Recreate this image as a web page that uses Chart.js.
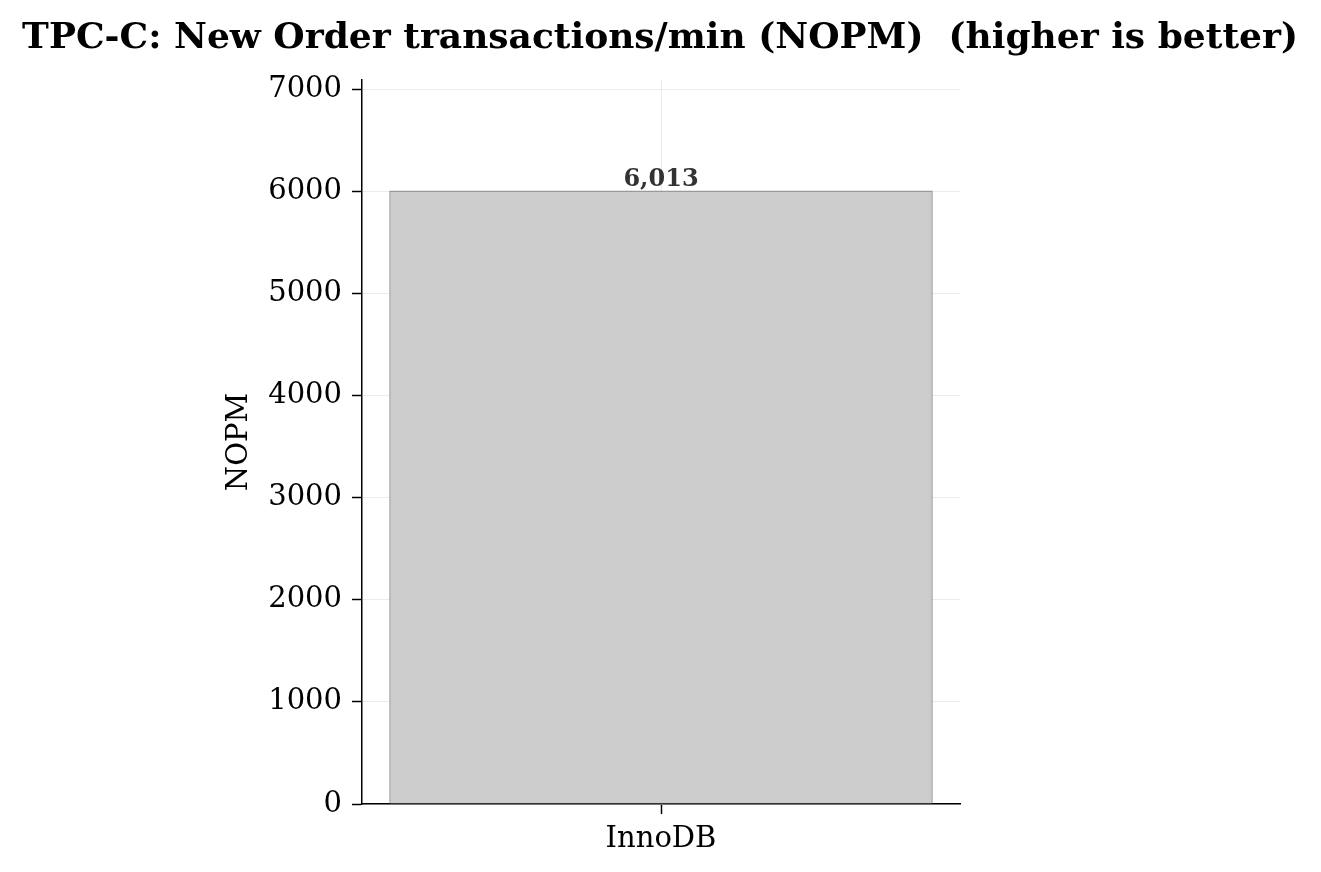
<!DOCTYPE html>
<html>
<head>
<meta charset="utf-8">
<title>TPC-C NOPM</title>
<script src="https://cdn.jsdelivr.net/npm/chart.js@4.4.1/dist/chart.umd.min.js"></script>
<style>
  html, body { margin: 0; padding: 0; background: #fff; }
  #wrap { width: 1321px; height: 872px; position: relative; }
</style>
</head>
<body>
<div id="wrap"><canvas id="nopmChart" width="1321" height="872"></canvas></div>
<script>
// 資料
const engines = ["InnoDB"];
const nopmValues = [6013];
const yTicks = [0, 1000, 2000, 3000, 4000, 5000, 6000, 7000];

const FONT = "'DejaVu Serif', 'Liberation Serif', serif";
const TITLE = "TPC-C: New Order transactions/min (NOPM)  (higher is better)";

// 標題 + 長條數值標籤
const labelPlugin = {
    id: "barLabels",
    afterDatasetsDraw(chart) {
        const ctx = chart.ctx;
        ctx.save();
        ctx.fillStyle = "#333";
        ctx.font = "bold 24px " + FONT;
        ctx.textAlign = "center";
        ctx.textBaseline = "bottom";
        const meta = chart.getDatasetMeta(0);
        meta.data.forEach((bar, i) => {
            ctx.fillText(nopmValues[i].toLocaleString("en-US"), bar.x, bar.y + 1);
        });
        ctx.fillStyle = "#000";
        ctx.font = "bold 36px " + FONT;
        ctx.textBaseline = "alphabetic";
        ctx.fillText(TITLE, 660, 48);
        ctx.restore();
    }
};

const ctx = document.getElementById("nopmChart").getContext("2d");
new Chart(ctx, {
    type: "bar",
    data: {
        labels: engines,
        datasets: [{
            label: "NOPM",
            data: nopmValues,
            backgroundColor: "#cccccc",
            borderColor: "#999999",
            borderWidth: 1.5,
            barPercentage: 0.909,
            categoryPercentage: 1.0
        }]
    },
    options: {
        responsive: false,
        animation: false,
        layout: { padding: { left: 222, right: 361, top: 80, bottom: 0 } },
        plugins: {
            legend: { display: false },
            tooltip: { enabled: false }
        },
        scales: {
            x: {
                grid: { color: "#ebebeb", lineWidth: 1, offset: false, tickColor: "#000", tickLength: 10, tickWidth: 1.5 },
                border: { color: "#000", width: 1.5 },
                ticks: { color: "#000", font: { family: FONT, size: 29 }, padding: 8 },
                afterFit(scale) { scale.height = 68; }
            },
            y: {
                min: 0,
                max: 7095,
                grid: { color: "#ebebeb", lineWidth: 1, tickColor: "#000", tickLength: 10, tickWidth: 1.5 },
                border: { color: "#000", width: 1.5 },
                afterBuildTicks(scale) { scale.ticks = yTicks.map(v => ({ value: v })); },
                ticks: { color: "#000", font: { family: FONT, size: 29 }, padding: 10, callback: v => String(v) },
                title: { display: true, text: "NOPM", color: "#000", font: { family: FONT, size: 29 }, padding: 0 },
                afterFit(scale) { scale.width = 140; }
            }
        }
    },
    plugins: [labelPlugin]
});
</script>
</body>
</html>
